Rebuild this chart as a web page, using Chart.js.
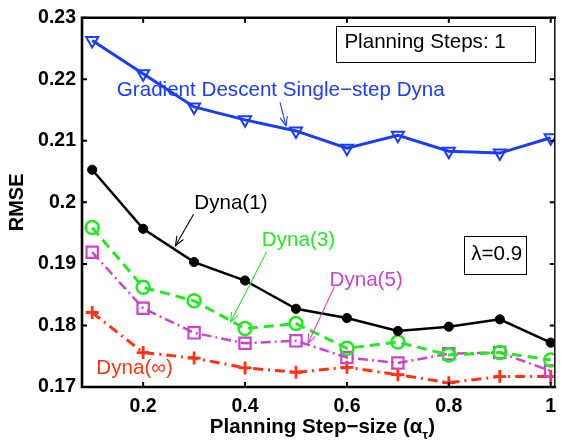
<!DOCTYPE html>
<html>
<head>
<meta charset="utf-8">
<script src="https://cdn.jsdelivr.net/npm/chart.js@4/dist/chart.umd.min.js"></script>
<style>
html,body{margin:0;padding:0;background:#fff;}
#wrap{width:565px;height:440px;position:relative;}
</style>
</head>
<body>
<div id="wrap"><canvas id="c" width="565" height="440"></canvas></div>
<script>
// ---- data ----
const stepSizes = [0.1, 0.2, 0.3, 0.4, 0.5, 0.6, 0.7, 0.8, 0.9, 1.0];
const gdSingleStepDyna = [0.2263, 0.2209, 0.2155, 0.2134, 0.2116, 0.2088, 0.2109, 0.2083, 0.2080, 0.2105];
const dyna1 = [0.2053, 0.1957, 0.1903, 0.1873, 0.1827, 0.1812, 0.1791, 0.1798, 0.1810, 0.1772];
const dyna3 = [0.1959, 0.1862, 0.1840, 0.1795, 0.1803, 0.1763, 0.1773, 0.1752, 0.1756, 0.1744];
const dyna5 = [0.1919, 0.1828, 0.1788, 0.1771, 0.1775, 0.1748, 0.1739, 0.1754, 0.1756, 0.1726];
const dynaInf = [0.1821, 0.1756, 0.1747, 0.1731, 0.1724, 0.1732, 0.1720, 0.1707, 0.1717, 0.1717];
const xTickValues = [0.2, 0.4, 0.6, 0.8, 1];
const xTickLabels = ['0.2', '0.4', '0.6', '0.8', '1'];
const yTickValues = [0.17, 0.18, 0.19, 0.20, 0.21, 0.22, 0.23];
const yTickLabels = ['0.17', '0.18', '0.19', '0.2', '0.21', '0.22', '0.23'];

// ---- styles ----
const BLUE = '#1a3cff', BLACK = '#000000', GREEN = '#22ea22', MAGENTA = '#cc44cc', RED = '#ff3311';
const FONT = '"Liberation Sans", Arial, Helvetica, sans-serif';

function pts(ys) { return stepSizes.map((x, i) => ({x: x, y: ys[i]})); }

// annotation placement (data coordinates)
const notes = {
  texts: [
    {t: 'Gradient Descent Single\u2212step Dyna', x: 0.1483, y: 0.2182, c: BLUE},
    {t: 'Dyna(1)', x: 0.3004, y: 0.19977, c: BLACK},
    {t: 'Dyna(3)', x: 0.433, y: 0.19376, c: GREEN},
    {t: 'Dyna(5)', x: 0.5658, y: 0.18731, c: MAGENTA},
    {t: 'Dyna(\u221E)', x: 0.1082, y: 0.17306, c: RED},
    {t: 'Planning Steps: 1', x: 0.5950, y: 0.22602, c: BLACK},
    {t: '\u03BB=0.9', x: 0.8441, y: 0.19161, c: BLACK}
  ],
  arrows: [
    {x0: 0.4687, y0: 0.21623, x1: 0.4804, y1: 0.21242, c: BLUE},
    {x0: 0.2990, y0: 0.19806, x1: 0.2635, y1: 0.19295, c: BLACK},
    {x0: 0.4427, y0: 0.19203, x1: 0.3717, y1: 0.18058, c: GREEN},
    {x0: 0.5755, y0: 0.18634, x1: 0.5237, y1: 0.17710, c: MAGENTA}
  ],
  boxes: [
    {x0: 0.5786, y0: 0.22871, x1: 0.9689, y1: 0.22279},
    {x0: 0.8291, y0: 0.19456, x1: 0.9509, y1: 0.18839}
  ]
};

const framePlugin = {
  id: 'matlabFrame',
  afterDatasetsDraw(chart) {
    const ctx = chart.ctx, xs = chart.scales.x, ys = chart.scales.y, a = chart.chartArea;
    ctx.save();
    // annotations
    ctx.font = '20.6px ' + FONT;
    ctx.textBaseline = 'middle';
    ctx.textAlign = 'left';
    notes.boxes.forEach(b => {
      const X0 = xs.getPixelForValue(b.x0), X1 = xs.getPixelForValue(b.x1);
      const Y0 = ys.getPixelForValue(b.y0), Y1 = ys.getPixelForValue(b.y1);
      ctx.fillStyle = '#fff';
      ctx.fillRect(X0, Y0, X1 - X0, Y1 - Y0);
      ctx.strokeStyle = '#000'; ctx.lineWidth = 1;
      ctx.strokeRect(Math.round(X0) + 0.5, Math.round(Y0) + 0.5, Math.round(X1 - X0), Math.round(Y1 - Y0));
    });
    notes.texts.forEach(t => {
      ctx.fillStyle = t.c;
      ctx.fillText(t.t, xs.getPixelForValue(t.x), ys.getPixelForValue(t.y));
    });
    notes.arrows.forEach(r => {
      const X0 = xs.getPixelForValue(r.x0), Y0 = ys.getPixelForValue(r.y0);
      const X1 = xs.getPixelForValue(r.x1), Y1 = ys.getPixelForValue(r.y1);
      const ang = Math.atan2(Y1 - Y0, X1 - X0), L = 10, h = 0.38;
      ctx.strokeStyle = r.c; ctx.lineWidth = 1.1;
      ctx.beginPath(); ctx.moveTo(X0, Y0); ctx.lineTo(X1, Y1); ctx.stroke();
      ctx.beginPath();
      ctx.moveTo(X1 - L * Math.cos(ang - h), Y1 - L * Math.sin(ang - h));
      ctx.lineTo(X1, Y1);
      ctx.lineTo(X1 - L * Math.cos(ang + h), Y1 - L * Math.sin(ang + h));
      ctx.stroke();
    });
    // frame
    ctx.strokeStyle = '#000';
    ctx.lineCap = 'square';
    ctx.lineWidth = 2.6;
    ctx.beginPath();
    ctx.moveTo(a.left, a.top); ctx.lineTo(a.left, a.bottom); ctx.lineTo(a.right, a.bottom);
    ctx.moveTo(a.left, a.top); ctx.lineTo(a.right, a.top);
    ctx.stroke();
    ctx.lineWidth = 1.4;
    ctx.beginPath(); ctx.moveTo(a.right, a.top); ctx.lineTo(a.right, a.bottom); ctx.stroke();
    // inward ticks
    ctx.lineCap = 'butt';
    ctx.lineWidth = 2;
    const TL = 5;
    ctx.beginPath();
    xTickValues.forEach(v => {
      const px = xs.getPixelForValue(v);
      ctx.moveTo(px, a.bottom); ctx.lineTo(px, a.bottom - TL);
      ctx.moveTo(px, a.top); ctx.lineTo(px, a.top + TL);
    });
    yTickValues.forEach(v => {
      const py = ys.getPixelForValue(v);
      ctx.moveTo(a.left, py); ctx.lineTo(a.left + TL, py);
      ctx.moveTo(a.right, py); ctx.lineTo(a.right - TL, py);
    });
    ctx.stroke();
    // axis titles
    ctx.fillStyle = '#000';
    ctx.font = 'bold 20px ' + FONT;
    ctx.textAlign = 'center';
    ctx.save();
    ctx.translate(17.5, (a.top + a.bottom) / 2);
    ctx.rotate(-Math.PI / 2);
    ctx.fillText('RMSE', 0, 0);
    ctx.restore();
    const main = 'Planning Step\u2212size (\u03B1', sub = '\u03C4', close = ')';
    const big = 'bold 20.5px ' + FONT, small = 'bold 13px ' + FONT;
    ctx.font = big;
    const w1 = ctx.measureText(main).width, w3 = ctx.measureText(close).width;
    ctx.font = small;
    const w2 = ctx.measureText(sub).width;
    const cx = (a.left + a.right) / 2 + 4, ty = a.bottom + 40;
    let sx = cx - (w1 + w2 + w3) / 2;
    ctx.textAlign = 'left';
    ctx.font = big;
    ctx.fillText(main, sx, ty);
    ctx.font = small;
    ctx.fillText(sub, sx + w1, ty + 8);
    ctx.font = big;
    ctx.fillText(close, sx + w1 + w2, ty);
    ctx.restore();
  }
};

const tickFont = {family: FONT, size: 19.5, weight: 'bold'};

new Chart(document.getElementById('c'), {
  type: 'line',
  data: {
    datasets: [
      {label: 'Gradient Descent Single-step Dyna', data: pts(gdSingleStepDyna), borderColor: BLUE, borderWidth: 3,
       pointStyle: 'triangle', pointRotation: 180, pointRadius: 7, pointBorderWidth: 2,
       pointBorderColor: BLUE, pointBackgroundColor: 'rgba(0,0,0,0)', order: 1},
      {label: 'Dyna(1)', data: pts(dyna1), borderColor: BLACK, borderWidth: 2.5,
       pointStyle: 'circle', pointRadius: 4.6, pointBorderWidth: 1, pointBorderColor: BLACK,
       pointBackgroundColor: BLACK, order: 2},
      {label: 'Dyna(3)', data: pts(dyna3), borderColor: GREEN, borderWidth: 3, borderDash: [10, 6],
       pointStyle: 'circle', pointRadius: 6.5, pointBorderWidth: 2.5, pointBorderColor: GREEN,
       pointBackgroundColor: 'rgba(0,0,0,0)', order: 3},
      {label: 'Dyna(5)', data: pts(dyna5), borderColor: MAGENTA, borderWidth: 2.5, borderDash: [10, 4, 2, 4],
       pointStyle: 'rect', pointRadius: 8, pointBorderWidth: 2.2, pointBorderColor: MAGENTA,
       pointBackgroundColor: 'rgba(0,0,0,0)', order: 4},
      {label: 'Dyna(inf)', data: pts(dynaInf), borderColor: RED, borderWidth: 3, borderDash: [10, 5, 2, 5],
       pointStyle: 'cross', pointRadius: 6.5, pointBorderWidth: 2.8, pointBorderColor: RED,
       pointBackgroundColor: RED, order: 5}
    ]
  },
  options: {
    responsive: false,
    animation: false,
    events: [],
    layout: {padding: {top: 15, right: 5, left: 0, bottom: 0}},
    plugins: {legend: {display: false}, tooltip: {enabled: false}, title: {display: false}},
    elements: {line: {tension: 0}},
    scales: {
      x: {
        type: 'linear', min: 0.08, max: 1.008,
        grid: {display: false, drawTicks: false}, border: {display: false},
        afterBuildTicks: s => { s.ticks = xTickValues.map(v => ({value: v})); },
        afterFit: s => { s.height = 53; },
        ticks: {font: tickFont, color: '#000', padding: 8, maxRotation: 0, autoSkip: false,
                callback: (v) => xTickLabels[xTickValues.indexOf(v)]}
      },
      y: {
        type: 'linear', min: 0.17, max: 0.23,
        grid: {display: false, drawTicks: false}, border: {display: false},
        afterBuildTicks: s => { s.ticks = yTickValues.map(v => ({value: v})); },
        afterFit: s => { s.width = 82; },
        ticks: {font: tickFont, color: '#000', padding: 6, autoSkip: false,
                callback: (v) => yTickLabels[yTickValues.indexOf(v)]}
      }
    }
  },
  plugins: [framePlugin]
});
</script>
</body>
</html>
